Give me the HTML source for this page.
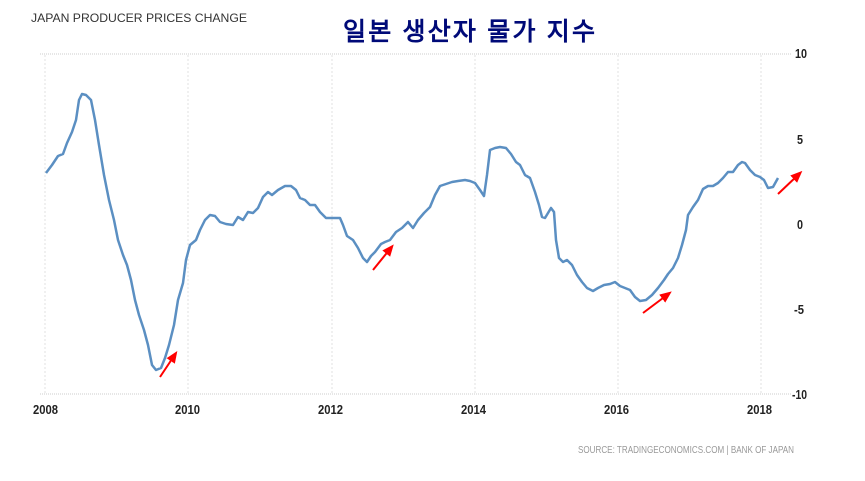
<!DOCTYPE html>
<html><head><meta charset="utf-8"><style>
body{margin:0;background:#fff;width:865px;height:476px;overflow:hidden}
text{font-family:"Liberation Sans",sans-serif}
</style></head><body>
<svg width="865" height="476" viewBox="0 0 865 476" xmlns="http://www.w3.org/2000/svg">
<defs><marker id="ah" markerWidth="6" markerHeight="6" refX="3" refY="3" orient="auto" markerUnits="strokeWidth"><path d="M0,0.5 L6,3 L0,5.5 z" fill="#f00"/></marker></defs>
<g stroke="#e0e0e0" stroke-width="1" stroke-dasharray="2,2">
<line x1="45" y1="55" x2="45" y2="394"/><line x1="188" y1="55" x2="188" y2="394"/><line x1="332" y1="55" x2="332" y2="394"/><line x1="475" y1="55" x2="475" y2="394"/><line x1="618" y1="55" x2="618" y2="394"/><line x1="761" y1="55" x2="761" y2="394"/>
</g>
<g stroke="#ccc" stroke-width="1" stroke-dasharray="1,1">
<line x1="40" y1="54" x2="792" y2="54"/><line x1="40" y1="394" x2="792" y2="394"/>
</g>
<text x="31" y="22" font-size="12" fill="#333" textLength="216" lengthAdjust="spacingAndGlyphs">JAPAN PRODUCER PRICES CHANGE</text>
<text x="343" y="40" font-size="25" font-weight="bold" fill="#000a78" font-family="'Noto Serif CJK SC','Noto Sans CJK KR',serif" textLength="252" lengthAdjust="spacing">일본 생산자 물가 지수</text>
<g font-size="13" fill="#222" font-weight="bold">
<text x="795" y="58" textLength="12" lengthAdjust="spacingAndGlyphs">10</text><text x="797" y="144" textLength="6" lengthAdjust="spacingAndGlyphs">5</text><text x="797" y="229" textLength="6" lengthAdjust="spacingAndGlyphs">0</text><text x="794" y="314" textLength="10" lengthAdjust="spacingAndGlyphs">-5</text><text x="792" y="399" textLength="15" lengthAdjust="spacingAndGlyphs">-10</text>
<text x="33" y="414" textLength="25" lengthAdjust="spacingAndGlyphs">2008</text><text x="175" y="414" textLength="25" lengthAdjust="spacingAndGlyphs">2010</text><text x="318" y="414" textLength="25" lengthAdjust="spacingAndGlyphs">2012</text><text x="461" y="414" textLength="25" lengthAdjust="spacingAndGlyphs">2014</text><text x="604" y="414" textLength="25" lengthAdjust="spacingAndGlyphs">2016</text><text x="747" y="414" textLength="25" lengthAdjust="spacingAndGlyphs">2018</text>
</g>
<text x="578" y="453" font-size="10" fill="#999" textLength="216" lengthAdjust="spacingAndGlyphs">SOURCE: TRADINGECONOMICS.COM | BANK OF JAPAN</text>
<polyline fill="none" stroke="#5b8fc2" stroke-width="2.5" stroke-linejoin="round" points="46,173 52,165 58,156 63,154 67,143 72,132 76,120 79,100 82,94 86,95 91,100 95,120 99,145 104,175 109,200 114,220 118,240 123,255 127,265 131,280 135,300 139,315 144,330 148,345 152,365 156,370 161,368 165,358 169,345 174,325 178,300 183,283 186,260 190,245 196,240 200,230 205,220 210,215 215,216 220,222 226,224 233,225 238,217 243,220 248,212 253,213 258,208 263,197 268,192 272,195 278,190 285,186 291,186 296,190 300,198 305,200 310,205 315,205 320,212 326,218 333,218 340,218 343,225 347,236 353,240 358,248 363,258 367,262 371,256 375,252 381,244 385,242 390,240 396,232 402,228 408,222 413,228 418,220 424,213 430,207 435,195 440,186 446,184 452,182 458,181 465,180 470,181 475,183 480,190 484,196 487,175 490,150 495,148 500,147 506,148 511,154 516,162 520,165 525,175 530,178 535,192 539,205 542,217 545,218 548,213 551,208 554,212 556,240 559,258 563,262 567,260 572,265 577,275 582,282 587,288 593,291 598,288 604,285 610,284 615,282 620,286 625,288 630,290 635,297 640,301 646,300 652,295 658,288 664,280 668,274 673,268 678,258 682,245 686,230 688,215 693,207 698,200 703,189 708,186 713,186 718,183 723,178 728,172 733,172 738,165 742,162 745,163 750,170 755,175 760,177 764,180 768,188 773,187 778,178"/>
<g stroke="#f00" stroke-width="2" marker-end="url(#ah)">
<line x1="160" y1="377" x2="174" y2="356"/><line x1="373" y1="270" x2="390" y2="249"/><line x1="643" y1="313" x2="667" y2="295"/><line x1="778" y1="194" x2="798" y2="175"/>
</g>
</svg>
</body></html>
